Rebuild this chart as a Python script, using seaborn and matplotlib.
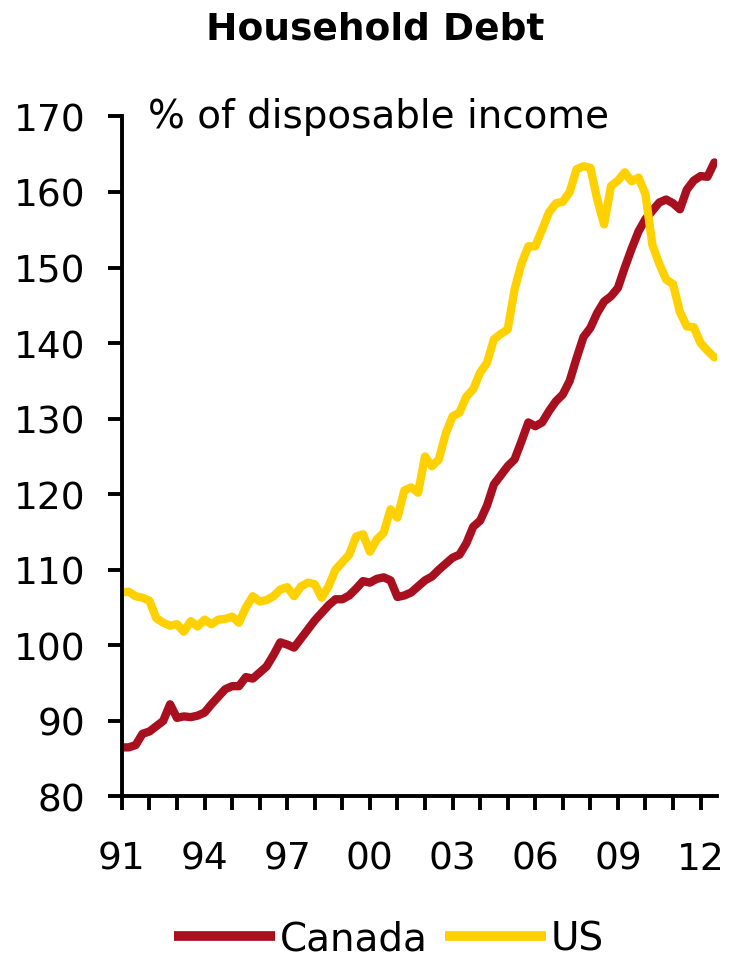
import numpy as np
import pandas as pd
import seaborn as sns
import matplotlib.pyplot as plt

# household debt, % of disposable income, quarterly 1991Q1 - 2012Q3
canada = [
    86.5, 86.5, 86.8, 88.3,
    88.6, 89.3, 90.0, 92.2,
    90.4, 90.6, 90.5, 90.7,
    91.1, 92.2, 93.2, 94.2,
    94.6, 94.6, 95.8, 95.6,
    96.4, 97.2, 98.7, 100.4,
    100.1, 99.7, 100.9, 102.1,
    103.3, 104.3, 105.3, 106.1,
    106.1, 106.6, 107.5, 108.5,
    108.3, 108.8, 109.0, 108.6,
    106.4, 106.6, 107.0, 107.8,
    108.6, 109.1, 110.0, 110.8,
    111.6, 112.0, 113.5, 115.7,
    116.5, 118.5, 121.3, 122.5,
    123.7, 124.6, 127.0, 129.5,
    129.0, 129.5, 131.0, 132.3,
    133.2, 135.0, 138.0, 140.8,
    142.0, 144.0, 145.5, 146.2,
    147.3, 150.0, 152.5, 154.8,
    156.4, 157.5, 158.6, 159.0,
    158.5, 157.7, 160.3, 161.5,
    162.1, 162.0, 163.9,
]
us = [
    107.0, 107.1, 106.5, 106.3,
    105.9, 103.6, 103.0, 102.6,
    102.8, 101.8, 103.2, 102.5,
    103.4, 102.8, 103.4, 103.5,
    103.8, 103.0, 105.0, 106.5,
    105.8, 106.0, 106.5, 107.4,
    107.7, 106.5, 107.8, 108.3,
    108.1, 106.3, 107.8, 110.0,
    111.0, 112.0, 114.4, 114.7,
    112.4, 114.0, 114.9, 118.0,
    116.9, 120.5, 120.9, 120.2,
    125.0, 123.7, 124.6, 128.0,
    130.3, 130.8, 132.9, 133.9,
    136.1, 137.4, 140.5, 141.2,
    141.8, 147.1, 150.5, 152.8,
    152.8, 155.0, 157.3, 158.5,
    158.7, 160.0, 163.0, 163.4,
    163.2, 159.0, 155.7, 160.8,
    161.5, 162.6, 161.4, 161.9,
    159.7, 153.0, 150.5, 148.4,
    147.8, 144.1, 142.2, 142.1,
    140.0, 139.0, 138.1,
]
dates = 1991 + np.arange(len(canada)) / 4

tick_years = list(range(1991, 2013))
label_years = [1991, 1994, 1997, 2000, 2003, 2006, 2009, 2012]
colors = {"Canada": "#A8101F", "US": "#FFD100"}

df = pd.DataFrame({
    "date": np.concatenate([dates, dates]),
    "value": canada + us,
    "country": ["Canada"] * len(canada) + ["US"] * len(us),
})

sns.set_style("white")
plt.rcParams["font.family"] = ["DejaVu Sans"]

fig = plt.figure(figsize=(7.34, 9.62), dpi=100)
ax = fig.add_axes([0.166, 0.171, 0.811, 0.707])

sns.lineplot(data=df, x="date", y="value", hue="country", palette=colors,
             linewidth=6, ax=ax, legend=False)

ax.set_xlim(1991, 2012.6)
ax.set_ylim(80, 170)
ax.set_yticks(range(80, 171, 10))
ax.set_xticks(tick_years)
ax.set_xticklabels([f"{y % 100:02d}" if y in label_years else "" for y in tick_years])
ax.set_xlabel("")
ax.set_ylabel("")

for s in ["top", "right"]:
    ax.spines[s].set_visible(False)
for s in ["left", "bottom"]:
    ax.spines[s].set_color("black")
    ax.spines[s].set_linewidth(2.8)

ax.tick_params(axis="both", direction="out", length=10, width=2.8, color="black",
               labelsize=27, labelcolor="black", bottom=True, left=True)
ax.tick_params(axis="y", pad=16)
ax.tick_params(axis="x", pad=22)

ax.text(0.044, 1.0, "% of disposable income", transform=ax.transAxes,
        fontsize=28, va="center", ha="left", color="black")

fig.text(0.511, 0.969, "Household Debt", fontsize=27, fontweight="bold",
         ha="center", va="center", color="black")

handles = [plt.Line2D([], [], color=colors[k], linewidth=7, solid_capstyle="butt")
           for k in colors]
fig.legend(handles, list(colors), loc="center", bbox_to_anchor=(0.53, 0.023),
           ncol=2, frameon=False, fontsize=28, handlelength=2.6,
           handletextpad=0.12, columnspacing=0.45, borderpad=0, labelcolor="black")

fig.savefig("out.png", dpi=100, facecolor="white")
